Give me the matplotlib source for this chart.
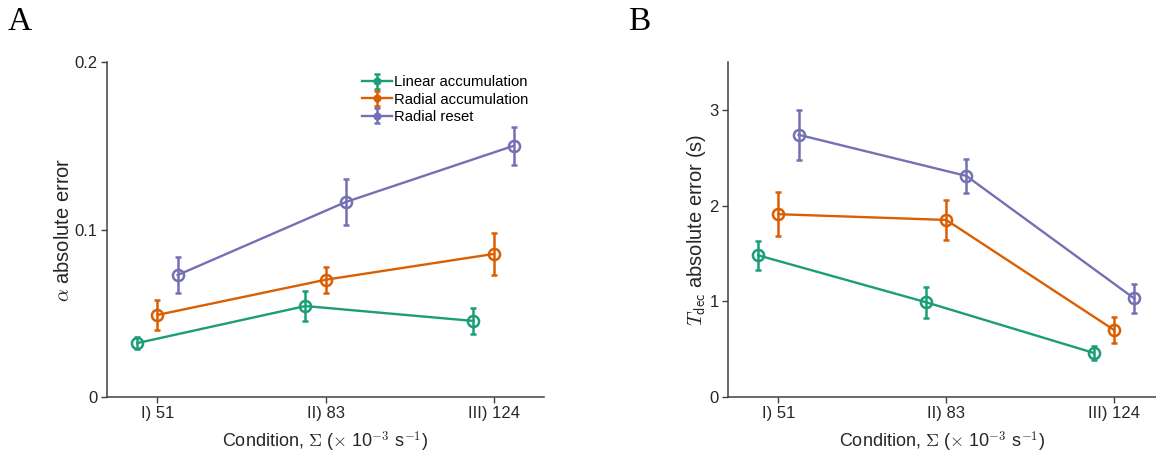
import matplotlib.pyplot as plt
from matplotlib.legend_handler import HandlerErrorbar
import numpy as np

# conditions on the x axis
conditions = ['I) 51', 'II) 83', 'III) 124']
models = ['Linear accumulation', 'Radial accumulation', 'Radial reset']
colors = ['#1b9e77', '#d95f02', '#7570b3']

# panel A: alpha absolute error (mean, error)
alpha_mean = [
    [0.0322, 0.0543, 0.0454],
    [0.0490, 0.0700, 0.0854],
    [0.0728, 0.1164, 0.1500],
]
alpha_err = [
    [0.0038, 0.0088, 0.0078],
    [0.0092, 0.0078, 0.0125],
    [0.0107, 0.0137, 0.0114],
]

# panel B: T_dec absolute error in seconds (mean, error)
tdec_mean = [
    [1.48, 0.99, 0.46],
    [1.91, 1.85, 0.70],
    [2.74, 2.31, 1.03],
]
tdec_err = [
    [0.15, 0.16, 0.07],
    [0.23, 0.21, 0.14],
    [0.26, 0.18, 0.15],
]

offsets = [-0.12, 0.0, 0.12]

plt.rcParams['font.family'] = ['Liberation Sans', 'DejaVu Sans']
plt.rcParams['mathtext.fontset'] = 'cm'

fig = plt.figure(figsize=(11.56, 4.57), dpi=100)
ax1 = fig.add_axes([0.0926, 0.1313, 0.378, 0.733])
ax2 = fig.add_axes([0.6298, 0.1313, 0.3702, 0.733])

x = np.arange(1, len(conditions) + 1)


def draw_panel(ax, means, errs):
    for i, name in enumerate(models):
        ax.errorbar(x + offsets[i], means[i], yerr=errs[i], color=colors[i],
                    lw=1.7, marker='o', ms=8, mfc='none', mew=1.8,
                    capsize=2.5, capthick=1.8, elinewidth=1.8, label=name)
    ax.set_xticks(x)
    ax.set_xticklabels(conditions)
    for s in ['top', 'right']:
        ax.spines[s].set_visible(False)
    for s in ['left', 'bottom']:
        ax.spines[s].set_color('#404040')
        ax.spines[s].set_linewidth(1.1)
    ax.tick_params(labelsize=12, length=4.3, width=1, pad=2.5,
                   color='#404040', labelcolor='#262626')
    ax.set_xlabel(r'Condition, $\Sigma$ ($\times$ 10$^{-3}$ s$^{-1}$)',
                  fontsize=13, color='#262626', labelpad=6)


def filled_marker(h, orig):
    h.update_from(orig)
    if hasattr(h, 'set_markerfacecolor'):
        h.set_markerfacecolor(orig.get_color())


draw_panel(ax1, alpha_mean, alpha_err)
ax1.set_xlim(0.70, 3.30)
ax1.set_ylim(0, 0.2)
ax1.set_yticks([0, 0.1, 0.2])
ax1.set_yticklabels(['0', '0.1', '0.2'])
ax1.set_ylabel(r'$\alpha$ absolute error', fontsize=14.5, color='#262626', labelpad=1)
ax1.legend(loc='upper right', bbox_to_anchor=(0.995, 1.0), frameon=False,
           fontsize=10.7, handlelength=2.0, handletextpad=0.15,
           labelspacing=0.22, markerscale=0.5,
           handler_map={type(ax1.containers[0]): HandlerErrorbar(update_func=filled_marker)})

draw_panel(ax2, tdec_mean, tdec_err)
ax2.set_xlim(0.70, 3.25)
ax2.set_ylim(0, 3.5)
ax2.set_yticks([0, 1, 2, 3])
ax2.set_ylabel(r'$T_{\mathsf{dec}}$ absolute error (s)', fontsize=14.5, color='#262626', labelpad=1)

fig.text(0.007, 0.935, 'A', family='Liberation Serif', fontsize=24)
fig.text(0.543, 0.935, 'B', family='Liberation Serif', fontsize=24)

fig.savefig('out.png', dpi=100)
